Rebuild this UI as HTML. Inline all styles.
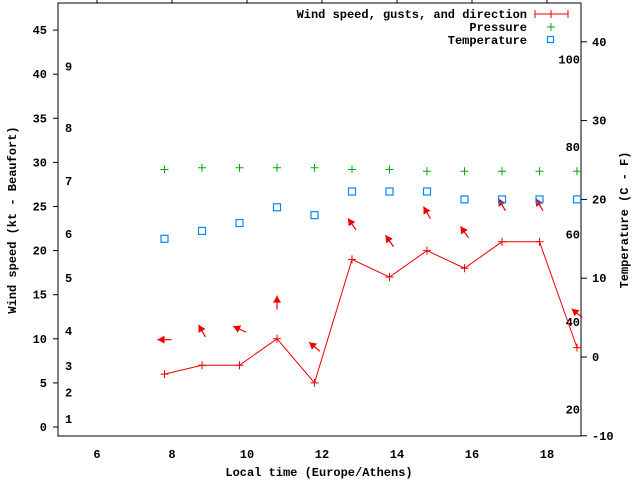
<!DOCTYPE html>
<html><head><meta charset="utf-8"><style>
html,body{margin:0;padding:0;background:#fff}
svg{display:block}
text{font-family:"Liberation Mono","DejaVu Sans Mono",monospace;font-size:12px;font-weight:bold;fill:#000}
</style></head><body>
<svg id="chart" width="640" height="480" viewBox="0 0 640 480" xmlns="http://www.w3.org/2000/svg">
<rect x="58" y="3" width="523" height="433" fill="none" stroke="#000" stroke-width="1"/>
<g id="axes"></g>
<g id="marks"></g>
<text x="16" y="220" transform="rotate(-90 16 220)" text-anchor="middle">Wind speed (kt - Beaufort)</text>
<text x="628" y="220" transform="rotate(-90 628 220)" text-anchor="middle">Temperature (C - F)</text>
<text x="319" y="476" text-anchor="middle">Local time (Europe/Athens)</text>
<g>
<text x="527" y="18" text-anchor="end">Wind speed, gusts, and direction</text>
<line x1="535" y1="14" x2="568" y2="14" stroke="#e00"/>
<line x1="535" y1="10" x2="535" y2="18" stroke="#e00"/><line x1="568" y1="10" x2="568" y2="18" stroke="#e00"/><line x1="551" y1="10" x2="551" y2="18" stroke="#e00"/>
<text x="527" y="31" text-anchor="end">Pressure</text>
<path d="M547 27h8M551 23v8" stroke="#0a0"/>
<text x="527" y="44" text-anchor="end">Temperature</text>
<rect x="547.5" y="36.5" width="6" height="6" fill="none" stroke="#08f" stroke-width="1.2"/>
</g>
</svg>
<script>
const times=[7.8,8.8,9.8,10.8,11.8,12.8,13.8,14.8,15.8,16.8,17.8,18.8];
const wind=[6,7,7,10,5,19,17,20,18,21,21,9];
const gust=[9.9,10.9,11.1,14.1,9.1,23,21.1,24.3,22.1,25.2,25.2,12.9];
const dirDeg=[180,120,155,90,140,125,125,120,125,120,120,140];
const pressure=[29.2,29.4,29.4,29.4,29.4,29.2,29.2,29.0,29.0,29.0,29.0,29.0];
const temperature=[15,16,17,19,18,21,21,21,20,20,20,20];
const xTicks=[6,8,10,12,14,16,18];
const yTicks=[0,5,10,15,20,25,30,35,40,45];
const y2Ticks=[-10,0,10,20,30,40];
const beaufort=[1,2,3,4,5,6,7,8,9];
const beaufortKt=[0.9,3.9,6.9,10.9,16.9,21.9,27.9,33.9,40.9];
const fahrenheit=[20,40,60,80,100];

const X=t=>97+(t-6)*37.5;
const Y=v=>427-v*8.82;
const Y2=c=>357-c*7.88;
const NS='http://www.w3.org/2000/svg';
const axes=document.getElementById('axes'), marks=document.getElementById('marks');
function mk(tag,attrs,parent){const e=document.createElementNS(NS,tag);for(const k in attrs)e.setAttribute(k,attrs[k]);parent.appendChild(e);return e;}

xTicks.forEach(t=>{
  const l=mk('line',{x1:X(t),y1:3,x2:X(t),y2:-3,stroke:'#000'},axes);
  
  
  const tx=mk('text',{x:X(t),y:458,'text-anchor':'middle'},axes);tx.textContent=t;
  
  
});
yTicks.forEach(v=>{
  const l=mk('line',{x1:53,y1:Y(v),x2:58,y2:Y(v),stroke:'#000'},axes);
  
  
  const tx=mk('text',{x:47,y:Y(v)+4,'text-anchor':'end'},axes);tx.textContent=v;
  
  
});
y2Ticks.forEach(v=>{
  const l=mk('line',{x1:581,y1:Y2(v),x2:587,y2:Y2(v),stroke:'#000'},axes);
  
  
  const tx=mk('text',{x:592,y:Y2(v)+4},axes);tx.textContent=v;
  
  
});
beaufort.forEach((b,i)=>{
  const tx=mk('text',{x:65,y:Y(beaufortKt[i])+4},axes);tx.textContent=b;
  
  
});
fahrenheit.forEach(f=>{
  const c=(f-32)*5/9;
  const tx=mk('text',{x:580,y:Y2(c)+4,'text-anchor':'end'},axes);tx.textContent=f;
  
  
});

const pl=mk('polyline',{points:times.map((t,i)=>X(t)+','+Y(wind[i])).join(' '),fill:'none',stroke:'#e00','stroke-width':1},marks);


times.forEach((t,i)=>{
  const x=X(t),y=Y(wind[i]);
  const p=mk('path',{d:`M${x-4} ${y}h8M${x} ${y-4}v8`,stroke:'#e00'},marks);
  
  
  const gy=Y(gust[i]);const a=dirDeg[i]*Math.PI/180;const dx=Math.cos(a),dy=-Math.sin(a);
  const hx=x+dx*7,hy=gy+dy*7,tx=x-dx*7,ty=gy-dy*7;
  const bx=hx-dx*7,by=hy-dy*7,px=-dy,py=dx;
  const g=mk('g',{},marks);
  
  
  mk('line',{x1:tx,y1:ty,x2:hx,y2:hy,stroke:'#e00','stroke-width':1.2},g);
  mk('polygon',{points:`${hx},${hy} ${bx+px*4},${by+py*4} ${bx-px*4},${by-py*4}`,fill:'#e00'},g);
  const pp=mk('path',{d:`M${x-4} ${Y(pressure[i])}h8M${x} ${Y(pressure[i])-4}v8`,stroke:'#0a0'},marks);
  
  
  const r=mk('rect',{x:x-3.5,y:Y2(temperature[i])-3.5,width:7,height:7,fill:'none',stroke:'#08f','stroke-width':1.2},marks);
  
  
});
</script>
</body></html>
